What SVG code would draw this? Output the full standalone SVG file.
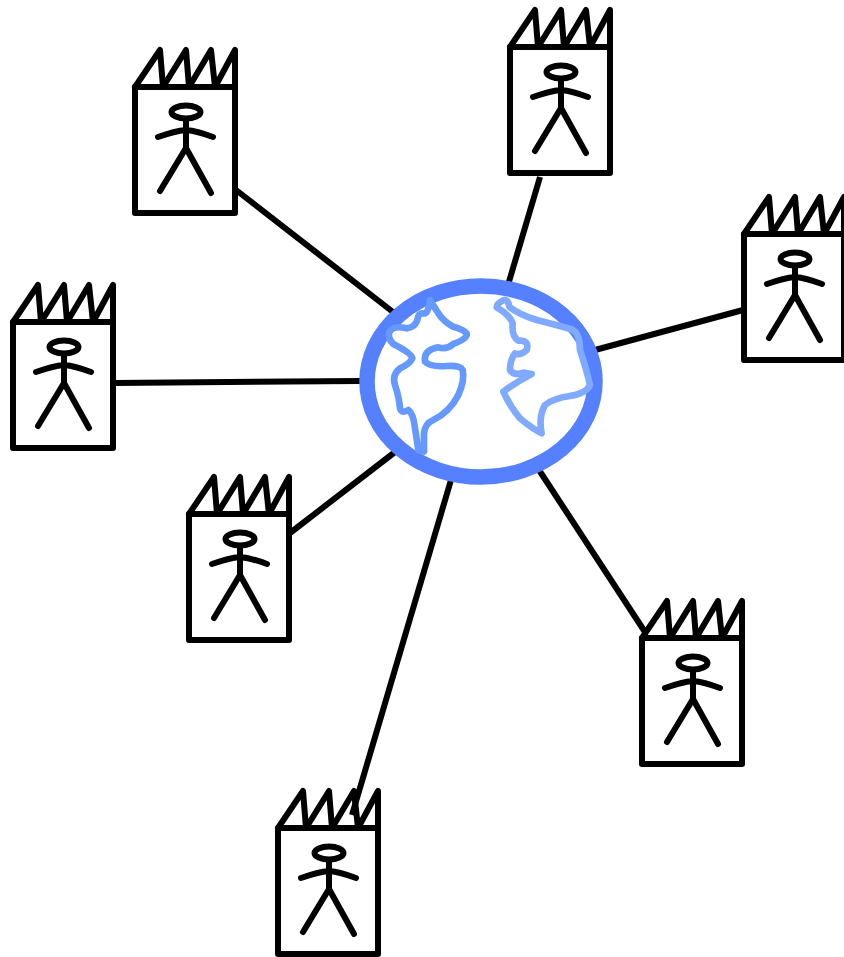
<svg xmlns="http://www.w3.org/2000/svg" xmlns:xlink="http://www.w3.org/1999/xlink" width="844" height="957" viewBox="0 0 844 957">
<style>
.k{fill:none;stroke:#000;stroke-width:6;stroke-linecap:round;stroke-linejoin:round}
.c{fill:none;stroke:#000;stroke-width:6;stroke-linecap:butt}
.land{fill:none;stroke-width:20;stroke-linecap:round;stroke-linejoin:round}
</style>
<defs>
<g id="agent" class="k">
<rect x="0" y="0" width="100" height="126"/>
<path d="M0 0L25 -37L28 0L51 -37L54 0L76 -37L80 0L100 -37L100 0"/>
<ellipse cx="51" cy="25" rx="14.5" ry="6.5"/>
<path d="M23 50Q40 44 51 43Q62 44 78 50M51 32L51 61M25 104L51 61L76 106"/>
</g>
</defs>
<rect width="844" height="957" fill="#fff"/>
<g id="connectors">
<line class="c" x1="236" y1="190" x2="393" y2="312"/>
<line class="c" x1="540" y1="177" x2="508" y2="285"/>
<line class="c" x1="743" y1="310" x2="595" y2="350"/>
<line class="c" x1="114" y1="383" x2="361" y2="381"/>
<line class="c" x1="290" y1="533" x2="395" y2="452"/>
<line class="c" x1="451" y1="480" x2="352" y2="815"/>
<line class="c" x1="539" y1="470" x2="645" y2="632"/>
</g>
<g id="globe">
<ellipse cx="481" cy="381.5" rx="114" ry="95.5" fill="#fff" stroke="#5580ff" stroke-width="15.5"/>
<g transform="translate(350 270) scale(.3333)">
<path class="land" stroke="#6699ff" d="M240 90Q235 135 218 130Q205 128 202 150Q195 172 170 175Q130 165 118 185Q112 205 130 222Q185 250 187 265Q180 282 150 295Q125 315 135 345Q148 385 150 415Q155 432 175 420Q190 430 195 475L205 540L222 545L222 490Q225 460 250 450Q300 425 325 375Q345 330 338 300Q330 285 290 288Q240 292 225 275Q220 240 265 232Q290 240 310 222Q355 205 350 190Q340 178 310 170Q280 155 262 125Z"/>
<path class="land" stroke="#80aaff" d="M462 90Q440 100 440 112Q480 135 488 160Q485 200 505 212Q540 210 530 240Q510 258 495 250Q480 270 480 300Q490 318 520 308L545 312Q500 335 460 365Q480 410 510 445Q545 475 575 490Q565 440 585 405Q610 385 660 378Q710 370 720 345Q710 300 690 240Q690 190 665 178Q620 165 560 150Q500 130 478 110Q475 88 462 90Z"/>
</g>
</g>
<g id="node-1"><use href="#agent" xlink:href="#agent" x="135" y="87"/></g>
<g id="node-2"><use href="#agent" xlink:href="#agent" x="510" y="47"/></g>
<g id="node-3"><use href="#agent" xlink:href="#agent" x="744" y="234"/></g>
<g id="node-4"><use href="#agent" xlink:href="#agent" x="13" y="322"/></g>
<g id="node-5"><use href="#agent" xlink:href="#agent" x="189" y="514"/></g>
<g id="node-6"><use href="#agent" xlink:href="#agent" x="642" y="638"/></g>
<g id="node-7"><use href="#agent" xlink:href="#agent" x="278" y="828"/></g>
</svg>
